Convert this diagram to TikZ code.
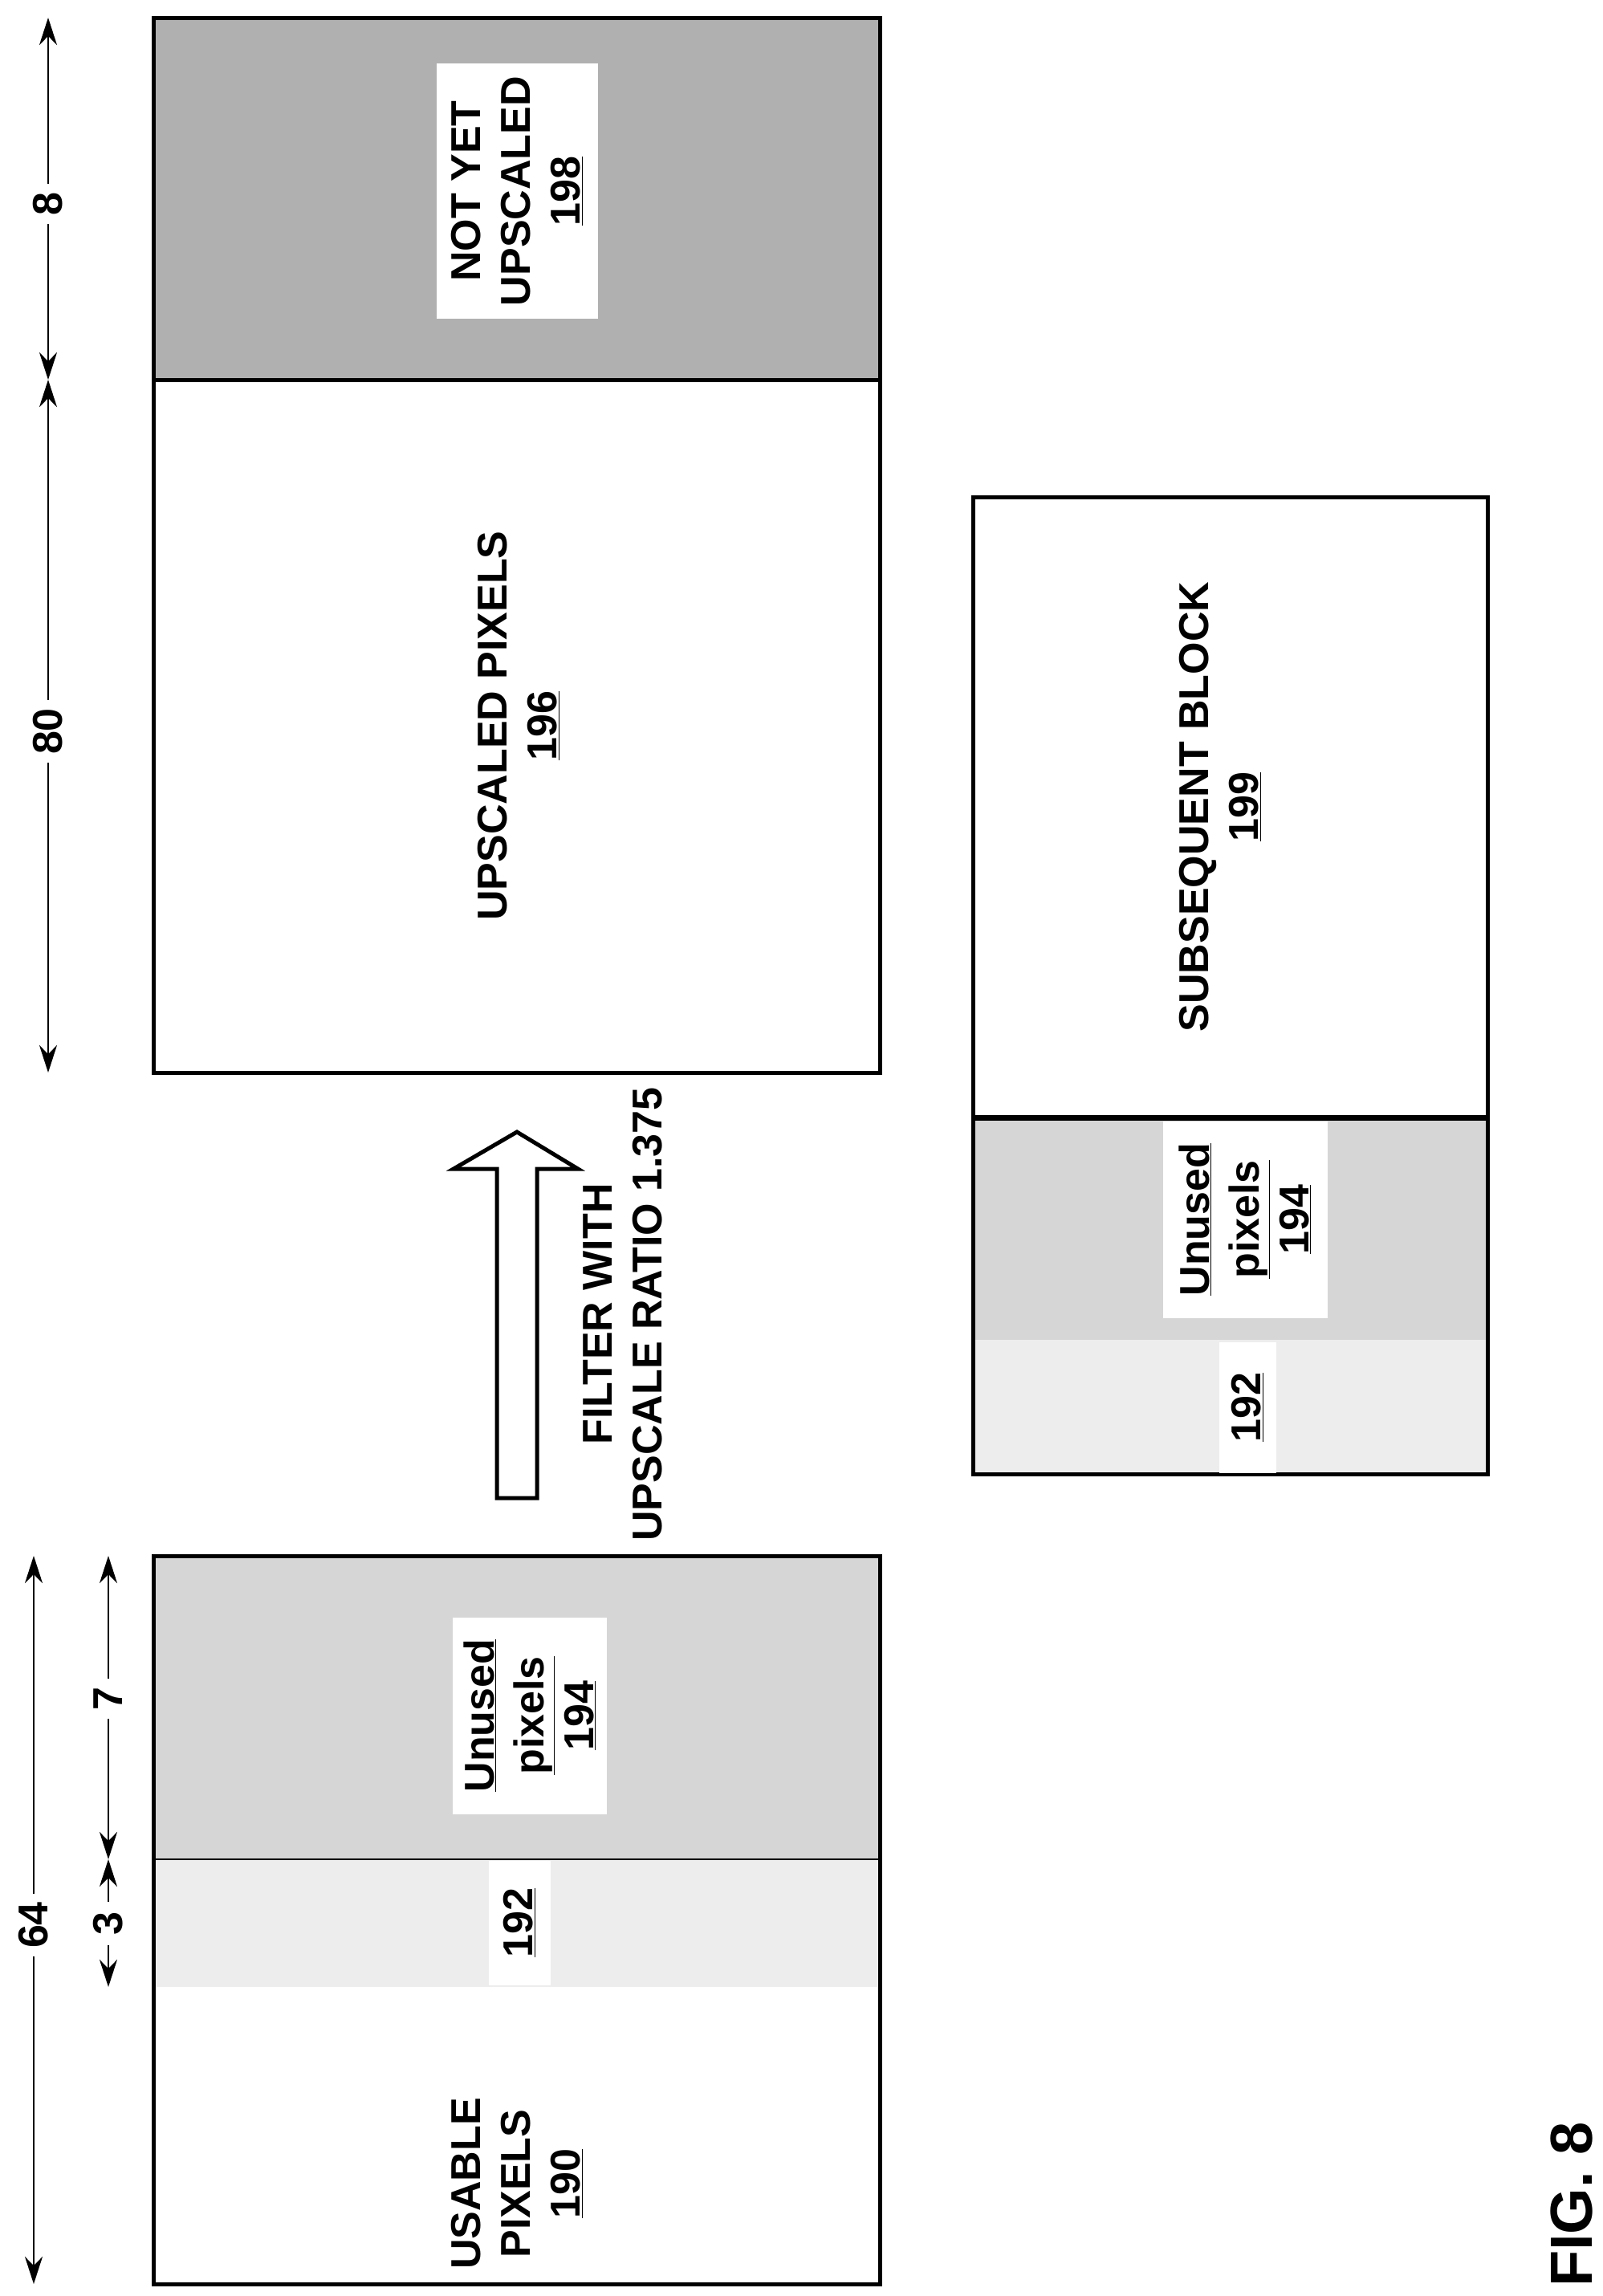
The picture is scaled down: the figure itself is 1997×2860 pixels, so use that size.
\documentclass[tikz,border=0pt]{standalone}
\usepackage{fontspec}
\setmainfont{Liberation Sans}
\usetikzlibrary{arrows.meta}
\begin{document}
\begin{tikzpicture}[x=1pt,y=-1pt,
  region/.style={rectangle,inner sep=0,outer sep=0,anchor=north west},
  lbl/.style={rotate=90,align=center,font=\fontsize{52}{62}\selectfont\bfseries,inner sep=0},
  dim/.style={line width=2.4pt,-{Stealth[length=34pt,width=22pt]}},
  dlbl/.style={rotate=90,fill=white,font=\fontsize{52}{62}\selectfont\bfseries,inner sep=10pt},
  border/.style={line width=5pt},
  dark/.style={fill=gray!62},
  mid/.style={fill=gray!32},
  light/.style={fill=gray!14}]
\useasboundingbox (0,0) rectangle (1997,2860);
\fill[white] (0,0) rectangle (1997,2860);
% top block
\node[region,dark,minimum width=905,minimum height=451] (r198) at (191,22) {};
\node[region,minimum width=905,minimum height=863] (r196) at (191,473) {};
\draw[border] (191,22) rectangle (1096,1336);
\draw[border] (191,473) -- (1096,473);
\node[fill=white,minimum width=201,minimum height=318,inner sep=0] (b198) at (644,238) {};
\node[lbl] (t198) at (644,238) {NOT YET\\UPSCALED\\\underline{198}};
\node[lbl] (t196) at (646,904) {UPSCALED PIXELS\\\underline{196}};
% dimension arrows top
\coordinate (a1) at (60,22);
\coordinate (a2) at (60,473);
\coordinate (a3) at (60,1336);
\node[dlbl] (d8) at (60,254) {8};
\node[dlbl] (d80) at (60,911) {80};
\draw[dim] (d8) -- (a1);
\draw[dim] (d8) -- (a2);
\draw[dim] (d80) -- (a2);
\draw[dim] (d80) -- (a3);
% big hollow arrow
\draw[border,fill=white,line join=miter] (619,1866) -- (619,1456) -- (565,1456) -- (644,1410) -- (720,1456) -- (669,1456) -- (669,1866) -- cycle;
\node[lbl] (tf) at (776,1637) {FILTER WITH\\UPSCALE RATIO 1.375};
% bottom-left block
\node[region,mid,minimum width=905,minimum height=378] (l194) at (191,1938) {};
\node[region,light,minimum width=905,minimum height=159] (l192) at (191,2316) {};
\node[region,minimum width=905,minimum height=370] (l190) at (191,2475) {};
\draw[line width=2pt] (191,2316) -- (1096,2316);
\draw[border] (191,1938) rectangle (1096,2845);
\node[fill=white,minimum width=192,minimum height=245,inner sep=0] (lb194) at (660,2137) {};
\node[lbl] (lt194) at (660,2137) {\underline{Unused}\\\underline{pixels}\\\underline{194}};
\node[fill=white,minimum width=77,minimum height=155,inner sep=0] (lb192) at (647,2395) {};
\node[lbl] (lt192) at (647,2395) {\underline{192}};
\node[lbl] (lt190) at (644,2720) {USABLE\\PIXELS\\\underline{190}};
% dimension arrows bottom-left
\coordinate (c1) at (42,1938);
\coordinate (c2) at (42,2845);
\node[dlbl] (d64) at (42,2398) {64};
\draw[dim] (d64) -- (c1);
\draw[dim] (d64) -- (c2);
\coordinate (e1) at (135,1938);
\coordinate (e2) at (135,2316);
\coordinate (e3) at (135,2475);
\node[dlbl] (d7) at (135,2116) {7};
\node[dlbl,inner sep=12pt] (d3) at (135,2396) {3};
\draw[dim] (d7) -- (e1);
\draw[dim] (d7) -- (e2);
\draw[dim] (d3) -- (e2);
\draw[dim] (d3) -- (e3);
% right block
\node[region,minimum width=641,minimum height=773] (r199) at (1212,619) {};
\node[region,mid,minimum width=641,minimum height=277] (s194) at (1212,1392) {};
\node[region,light,minimum width=641,minimum height=167] (s192) at (1212,1669) {};
\draw[border] (1212,619) rectangle (1853,1836);
\draw[line width=7pt] (1212,1392) -- (1853,1392);
\node[lbl] (t199) at (1520,1005) {SUBSEQUENT BLOCK\\\underline{199}};
\node[fill=white,minimum width=205,minimum height=245,inner sep=0] (sb194) at (1551,1519) {};
\node[lbl] (st194) at (1551,1519) {\underline{Unused}\\\underline{pixels}\\\underline{194}};
\node[fill=white,minimum width=71,minimum height=163,inner sep=0] (sb192) at (1554,1753) {};
\node[lbl] (st192) at (1554,1753) {\underline{192}};
% figure label
\node[rotate=90,font=\fontsize{74}{80}\selectfont\bfseries,inner sep=0] (fig) at (1958,2746) {FIG. 8};
\end{tikzpicture}
\end{document}
